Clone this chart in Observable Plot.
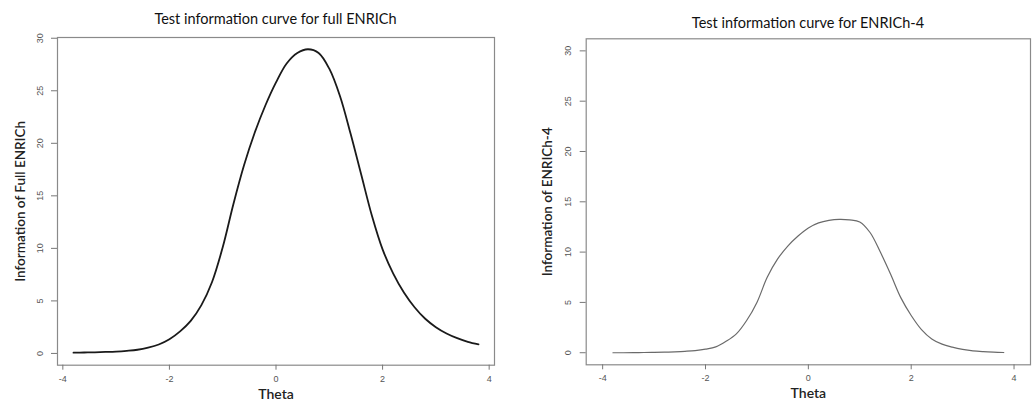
<!DOCTYPE html>
<html>
<head>
<meta charset="utf-8">
<script src="https://cdn.jsdelivr.net/npm/d3@7"></script>
<script src="https://cdn.jsdelivr.net/npm/@observablehq/plot@0.6"></script>
<style>
  html, body { margin: 0; padding: 0; background: #fff; }
  #wrap { position: relative; width: 1032px; height: 404px; overflow: hidden; background: #fff; }
  .panel { position: absolute; top: 0; z-index: 1; }
  .title { position: absolute; z-index: 5; font-family: Lato, "Open Sans", sans-serif; font-size: 14.5px; line-height: 16px; color: #111; text-align: center; white-space: nowrap; }
</style>
</head>
<body>
<div id="wrap">
  <div id="left" class="panel" style="left:0px;"></div>
  <div id="right" class="panel" style="left:516px;"></div>
  <div class="title" style="left:0px; width:551px; top:11px;">Test information curve for full ENRICh</div>
  <div class="title" style="left:586px; width:444px; top:15px;">Test information curve for ENRICh-4</div>
</div>
<script>
// Theta grid (shared)
const theta = [-3.8,-3.6,-3.4,-3.2,-3.0,-2.8,-2.6,-2.4,-2.2,-2.0,-1.8,-1.6,-1.4,-1.2,-1.0,-0.8,-0.6,-0.4,-0.2,0.0,
               0.2,0.4,0.6,0.8,1.0,1.2,1.4,1.6,1.8,2.0,2.2,2.4,2.6,2.8,3.0,3.2,3.4,3.6,3.8];
// Information, full ENRICh
const infoFull = [0.07,0.09,0.11,0.14,0.18,0.25,0.35,0.55,0.85,1.35,2.1,3.1,4.6,6.8,10.1,14.2,17.9,21.0,23.6,25.8,
                  27.6,28.6,28.95,28.6,27.1,24.5,20.9,17.0,13.1,9.9,7.6,5.8,4.4,3.3,2.5,1.9,1.45,1.1,0.86];
// Information, ENRICh-4
const infoShort = [0,0,0.01,0.02,0.03,0.05,0.09,0.14,0.21,0.35,0.58,1.13,1.87,3.2,5.0,7.5,9.3,10.6,11.6,12.4,
                   12.9,13.15,13.25,13.2,13.0,11.95,10.0,7.8,5.45,3.7,2.3,1.37,0.85,0.55,0.33,0.18,0.1,0.05,0.02];

const xTicks = [-4,-2,0,2,4];
const yTicks = [0,5,10,15,20,25,30];
const xLabel = "Theta";
const yLabelFull = "Information of Full ENRICh";
const yLabelShort = "Information of ENRICh-4";

const dataFull = theta.map((t,i) => ({theta: t, info: infoFull[i]}));
const dataShort = theta.map((t,i) => ({theta: t, info: infoShort[i]}));

function panel({data, xDomain, yDomain, margins, yLabel, yLabelDx, stroke, strokeWidth}) {
  return Plot.plot({
    width: 516,
    height: 404,
    marginLeft: margins[0],
    marginRight: margins[1],
    marginTop: margins[2],
    marginBottom: margins[3],
    style: {background: "transparent", overflow: "visible"},
    x: {domain: xDomain},
    y: {domain: yDomain},
    marks: [
      Plot.frame({stroke: "#8a8a8a", strokeWidth: 1.2}),
      Plot.axisX({ticks: xTicks, tickSize: 5, tickPadding: 5, fontSize: 9, color: "#555", stroke: "#777",
                  fontFamily: "Liberation Sans, Arial, sans-serif", tickFormat: d => String(d), label: null}),
      Plot.axisY({ticks: yTicks, tickSize: 6, tickPadding: 9, tickRotate: -90, fontSize: 9, color: "#555", stroke: "#777",
                  fontFamily: "Liberation Sans, Arial, sans-serif", tickFormat: d => String(d), label: null}),
      Plot.line(data, {x: "theta", y: "info", stroke, strokeWidth, curve: "catmull-rom"}),
      Plot.text([xLabel], {text: d => d, frameAnchor: "bottom", dy: 33.5, fontSize: 14, fontWeight: 600,
                  fontFamily: "Lato, Open Sans, sans-serif", fill: "#222"}),
      Plot.text([yLabel], {text: d => d, frameAnchor: "left", textAnchor: "middle", dx: yLabelDx, rotate: -90, fontSize: 13.5,
                  fontWeight: 600, fontFamily: "Lato, Open Sans, sans-serif", fill: "#222"})
    ]
  });
}

document.getElementById("left").appendChild(panel({
  data: dataFull, xDomain: [-4.1, 4.1], yDomain: [-1.12, 30.07],
  margins: [57, 22, 37, 39.3], yLabel: yLabelFull, yLabelDx: -37, stroke: "#1a1a1a", strokeWidth: 1.8
}));
document.getElementById("right").appendChild(panel({
  data: dataShort, xDomain: [-4.32, 4.32], yDomain: [-1.2, 31.2],
  margins: [69.7, 2, 38.3, 39.7], yLabel: yLabelShort, yLabelDx: -38.7, stroke: "#6a6a6a", strokeWidth: 1.2
}));
</script>
</body>
</html>
